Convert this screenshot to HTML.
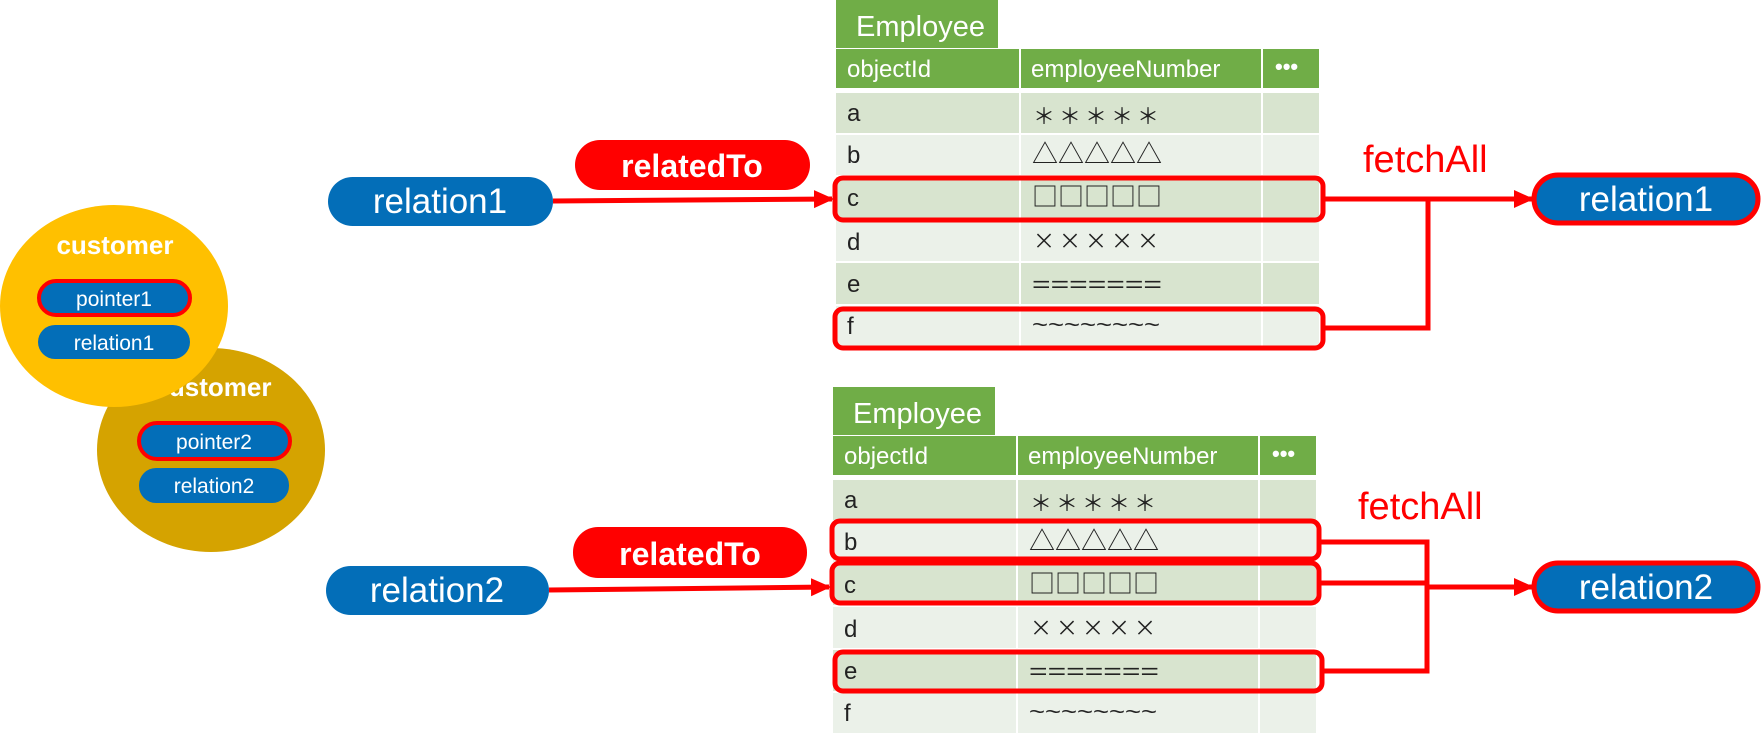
<!DOCTYPE html>
<html><head><meta charset="utf-8"><style>
html,body{margin:0;padding:0;background:#fff;}
svg{display:block;}
text{font-family:"Liberation Sans","Noto Sans CJK JP",sans-serif;}
.s{font-family:"Noto Sans CJK JP",sans-serif;}
</style></head><body>
<svg width="1761" height="744" viewBox="0 0 1761 744" xmlns="http://www.w3.org/2000/svg">
<defs>
<marker id="ah" markerWidth="20" markerHeight="20" refX="18" refY="10" orient="auto" markerUnits="userSpaceOnUse" viewBox="0 0 20 20">
<path d="M0,1 L20,10 L0,19 z" fill="#f00"/></marker>
<g id="tbl">
<rect x="836" y="0" width="162" height="48" fill="#70AD47"/>
<text x="856" y="36" font-size="29" fill="#fff">Employee</text>
<rect x="836" y="49" width="183" height="39" fill="#70AD47"/>
<rect x="1021" y="49" width="240" height="39" fill="#70AD47"/>
<rect x="1263" y="49" width="56" height="39" fill="#70AD47"/>
<text x="847" y="77" font-size="24" fill="#fff">objectId</text>
<text x="1031" y="77" font-size="24" fill="#fff">employeeNumber</text>
<text x="1275" y="74" font-size="22" fill="#fff" font-weight="bold">•••</text>
<g font-size="24" fill="#222">
<rect x="836" y="93" width="183" height="40" fill="#D8E4CF"/><rect x="1021" y="93" width="240" height="40" fill="#D8E4CF"/><rect x="1263" y="93" width="56" height="40" fill="#D8E4CF"/>
<rect x="836" y="135" width="183" height="40" fill="#EBF1E9"/><rect x="1021" y="135" width="240" height="40" fill="#EBF1E9"/><rect x="1263" y="135" width="56" height="40" fill="#EBF1E9"/>
<rect x="836" y="177" width="183" height="41" fill="#D8E4CF"/><rect x="1021" y="177" width="240" height="41" fill="#D8E4CF"/><rect x="1263" y="177" width="56" height="41" fill="#D8E4CF"/>
<rect x="836" y="220" width="183" height="41" fill="#EBF1E9"/><rect x="1021" y="220" width="240" height="41" fill="#EBF1E9"/><rect x="1263" y="220" width="56" height="41" fill="#EBF1E9"/>
<rect x="836" y="263" width="183" height="41" fill="#D8E4CF"/><rect x="1021" y="263" width="240" height="41" fill="#D8E4CF"/><rect x="1263" y="263" width="56" height="41" fill="#D8E4CF"/>
<rect x="836" y="306" width="183" height="40" fill="#EBF1E9"/><rect x="1021" y="306" width="240" height="40" fill="#EBF1E9"/><rect x="1263" y="306" width="56" height="40" fill="#EBF1E9"/>
<text x="847" y="121">a</text><text class="s" x="1033" y="124" font-size="22" textLength="126" lengthAdjust="spacing">＊＊＊＊＊</text>
<text x="847" y="163">b</text><text class="s" x="1032" y="163" font-size="26" textLength="130" lengthAdjust="spacingAndGlyphs">△△△△△</text>
<text x="847" y="206">c</text><text class="s" x="1032" y="206" font-size="26" textLength="130" lengthAdjust="spacingAndGlyphs">□□□□□</text>
<text x="847" y="250">d</text><text class="s" x="1033" y="249" font-size="22" textLength="126" lengthAdjust="spacing">×××××</text>
<text x="847" y="292">e</text><text x="1032" y="292" font-size="22" textLength="130" lengthAdjust="spacingAndGlyphs">=======</text>
<text x="847" y="334">f</text><text x="1032" y="332" font-size="22" textLength="128" lengthAdjust="spacingAndGlyphs">~~~~~~~~</text>
</g>
</g>
</defs>

<!-- customers -->
<ellipse cx="211" cy="450" rx="114" ry="102" fill="#D5A300"/>
<text x="213" y="396" font-size="26" font-weight="bold" fill="#fff" text-anchor="middle">customer</text>
<rect x="139" y="423" width="151" height="36" rx="18" fill="#036EB8" stroke="#f00" stroke-width="4"/>
<text x="214" y="449" font-size="21" fill="#fff" text-anchor="middle">pointer2</text>
<rect x="139" y="468" width="150" height="35" rx="17" fill="#036EB8"/>
<text x="214" y="493" font-size="21" fill="#fff" text-anchor="middle">relation2</text>

<ellipse cx="114" cy="306" rx="114" ry="101" fill="#FFC000"/>
<text x="115" y="254" font-size="26" font-weight="bold" fill="#fff" text-anchor="middle">customer</text>
<rect x="39" y="281" width="151" height="34" rx="17" fill="#036EB8" stroke="#f00" stroke-width="4"/>
<text x="114" y="306" font-size="21" fill="#fff" text-anchor="middle">pointer1</text>
<rect x="38" y="325" width="152" height="34" rx="17" fill="#036EB8"/>
<text x="114" y="350" font-size="21" fill="#fff" text-anchor="middle">relation1</text>

<!-- tables -->
<use href="#tbl"/>
<use href="#tbl" transform="translate(-3,387)"/>

<!-- left pills -->
<rect x="328" y="177" width="225" height="49" rx="24.5" fill="#036EB8"/>
<text x="440" y="213" font-size="35" fill="#fff" text-anchor="middle">relation1</text>
<rect x="575" y="140" width="235" height="50" rx="25" fill="#f00"/>
<text x="692" y="177" font-size="32" font-weight="bold" fill="#fff" text-anchor="middle">relatedTo</text>
<line x1="553" y1="201" x2="832" y2="199" stroke="#f00" stroke-width="5" marker-end="url(#ah)"/>

<rect x="326" y="566" width="223" height="49" rx="24.5" fill="#036EB8"/>
<text x="437" y="602" font-size="35" fill="#fff" text-anchor="middle">relation2</text>
<rect x="573" y="527" width="234" height="51" rx="25" fill="#f00"/>
<text x="690" y="565" font-size="32" font-weight="bold" fill="#fff" text-anchor="middle">relatedTo</text>
<line x1="549" y1="590" x2="829" y2="587" stroke="#f00" stroke-width="5" marker-end="url(#ah)"/>

<!-- red boxes -->
<g fill="none" stroke="#f00" stroke-width="5">
<rect x="835" y="178" width="488" height="42" rx="8"/>
<rect x="835" y="309" width="488" height="39" rx="8"/>
<rect x="832" y="521" width="487" height="38" rx="8"/>
<rect x="832" y="563" width="487" height="40" rx="8"/>
<rect x="835" y="652" width="487" height="39" rx="8"/>
</g>

<!-- fetchAll 1 -->
<text x="1363" y="172" font-size="38" fill="#f00">fetchAll</text>
<polyline points="1325,199 1428,199 1428,328 1325,328" fill="none" stroke="#f00" stroke-width="5"/>
<line x1="1428" y1="199" x2="1532" y2="199" stroke="#f00" stroke-width="5" marker-end="url(#ah)"/>
<rect x="1534" y="175" width="224" height="48" rx="24" fill="#036EB8" stroke="#f00" stroke-width="5"/>
<text x="1646" y="211" font-size="35" fill="#fff" text-anchor="middle">relation1</text>

<!-- fetchAll 2 -->
<text x="1358" y="519" font-size="38" fill="#f00">fetchAll</text>
<polyline points="1321,542 1427,542 1427,671 1324,671" fill="none" stroke="#f00" stroke-width="5"/>
<line x1="1321" y1="583" x2="1427" y2="583" stroke="#f00" stroke-width="5"/>
<line x1="1427" y1="587" x2="1532" y2="587" stroke="#f00" stroke-width="5" marker-end="url(#ah)"/>
<rect x="1534" y="563" width="224" height="48" rx="24" fill="#036EB8" stroke="#f00" stroke-width="5"/>
<text x="1646" y="599" font-size="35" fill="#fff" text-anchor="middle">relation2</text>
</svg>
</body></html>
